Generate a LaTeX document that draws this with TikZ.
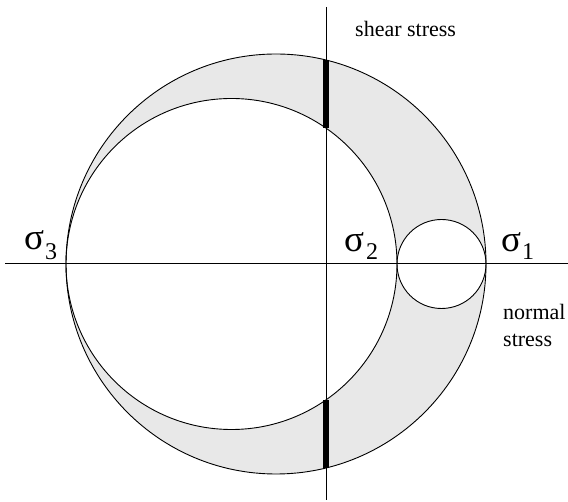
\documentclass[tikz,border=0pt]{standalone}
\usepackage{fontspec}
\setmainfont{Liberation Serif}
\begin{document}
\begin{tikzpicture}[x=1pt,y=-1pt,
  axis/.style={line width=1pt},
  circ/.style={line width=0.9pt},
  bar/.style={line width=6pt},
  lbl/.style={inner sep=0pt,anchor=base west,font=\fontsize{22}{24}\selectfont},
  sig/.style={inner sep=0pt,anchor=base west,font=\fontsize{37}{37}\selectfont},
  sub/.style={inner sep=0pt,anchor=base west,font=\fontsize{24}{24}\selectfont}]
\useasboundingbox (0,0) rectangle (568,502);
% shaded region
\fill[gray!18,even odd rule] (276,264) circle[radius=210] (231.5,264) circle[radius=165.5] (441.5,264) circle[radius=44.5];
\draw[circ] (276,264) circle[radius=210];
\draw[circ] (231.5,264) circle[radius=165.5];
\draw[circ] (441.5,264) circle[radius=44.5];
% axes
\coordinate (hl) at (5,264);
\coordinate (hr) at (568,264);
\coordinate (vt) at (326,7);
\coordinate (vb) at (326,500);
\draw[axis] (hl) -- (hr);
\draw[axis] (vt) -- (vb);
% bars
\coordinate (b1) at (326,60.0);
\coordinate (b2) at (326,128.1);
\coordinate (b3) at (326,399.9);
\coordinate (b4) at (326,468.0);
\draw[bar] (b1) -- (b2);
\draw[bar] (b3) -- (b4);
% labels
\node[lbl] (shear) at (355,37) {shear stress};
\node[lbl] (normal) at (503,320) {normal};
\node[lbl] (stress) at (503,347) {stress};
\node[sig] (s3) at (24,250) {σ};
\node[sub] (s3i) at (45,260) {3};
\node[sig] (s2) at (344,252) {σ};
\node[sub] (s2i) at (366,260) {2};
\node[sig] (s1) at (501,252) {σ};
\node[sub] (s1i) at (522,260) {1};
\end{tikzpicture}
\end{document}
